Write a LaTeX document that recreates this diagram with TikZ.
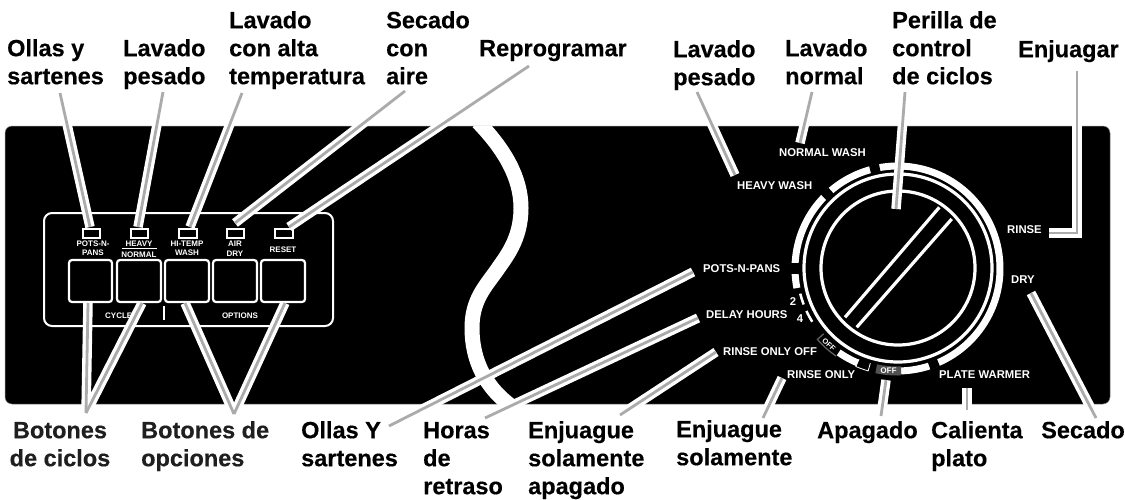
\documentclass[tikz,border=0pt]{standalone}
\usepackage{fontspec}
\setmainfont{Liberation Sans}
\newfontfamily\lblfont[FakeBold=0.4]{Liberation Sans Bold}
\newcommand\firstln{\rule{0pt}{20pt}}
\begin{document}
\begin{tikzpicture}[x=1pt,y=-1pt,
  lbl/.style={font=\lblfont\fontsize{23.5}{28}\selectfont,text=black,inner sep=0pt,anchor=north west,align=left},
  lblc/.style={lbl,align=center,anchor=north,text=black!88},
  dial/.style={font=\bfseries\fontsize{11.3}{13}\selectfont,text=white,inner sep=0pt,anchor=base west},
  tiny/.style={font=\bfseries\fontsize{8}{9}\selectfont,text=white,inner sep=0pt,anchor=base},
  lcase/.style={draw=white,line width=9.5pt},
  lcore/.style={draw=black!33,line width=2.8pt},
  btn/.style={draw=white,line width=2.2pt,rounded corners=3pt},
  led/.style={draw=white,line width=1.2pt,fill=black},
  wl/.style={draw=white,line width=3.2pt}]
\useasboundingbox (0,0) rectangle (1125,499);
\fill[white] (0,0) rectangle (1125,499);
% panel
\draw[fill=black,draw=black!45,line width=.5pt,rounded corners=7pt] (5,126) rectangle (1110,404);
\begin{scope}
  \clip (5,126) rectangle (1110,404);
  \draw[white,line width=15pt] (478,122) .. controls (505,150) and (521,178) .. (521,208)
     .. controls (521,240) and (505,258) .. (497,270)
     .. controls (485,287) and (472,300) .. (472,328)
     .. controls (472,360) and (485,388) .. (514,408);
\end{scope}
% control box
\draw[white,line width=2pt,rounded corners=8pt] (44,213) rectangle (333,326);
\foreach \xa/\xb/\n in {69/112/1,117/161/2,165/209/3,213/257/4,261/305/5}
  \draw[btn] (\xa,260) rectangle (\xb,302);
\foreach \xa/\xb in {83/100,131/148,179/197,227/244,275/293}
  \draw[led] (\xa,229) rectangle (\xb,238);
\node[tiny] (tp1) at (93,246) {POTS-N-};
\node[tiny] (tp2) at (93,255) {PANS};
\node[tiny] (th1) at (139,246) {HEAVY};
\node[tiny] (th2) at (139,257) {NORMAL};
\draw[white,line width=1.2pt] (122,248.5) -- (157,248.5);
\node[tiny] (tt1) at (187,246) {HI-TEMP};
\node[tiny] (tt2) at (187,255) {WASH};
\node[tiny] (ta1) at (235,246) {AIR};
\node[tiny] (ta2) at (235,256) {DRY};
\node[tiny] (tr) at (283,252) {RESET};
\node[tiny,anchor=base west] (tcy) at (105,318) {CYCLES};
\node[tiny] (top) at (240,318) {OPTIONS};
\draw[white,line width=2.5pt] (164,306) -- (164,320);
% dial
\draw[wl] (898,268) circle[radius=77];
\draw[wl] (898,268) circle[radius=94];
\draw[wl] (845,317.3) -- (939.3,207.3);
\draw[wl] (856.7,327.3) -- (951.7,219);
\begin{scope}[shift={(897.5,268.5)},y=1pt]
  \newcommand\ringarc[4]{\draw[#4] (#1:#3) arc[start angle=#1,end angle=#2,radius=#3];}
  \ringarc{272}{551}{102.5}{white,line width=7pt}
  \ringarc{177}{183}{102.5}{black,line width=8pt}
  \ringarc{100}{105.5}{102.5}{black,line width=8pt}
  \ringarc{130.5}{136}{102.5}{black,line width=8pt}
  \ringarc{288}{293.5}{102.5}{black,line width=8pt}
  \ringarc{194.5}{201}{100.5}{white,line width=2.5pt}
  \ringarc{205}{212}{100.5}{white,line width=2.5pt}
  \ringarc{235}{247}{102.5}{white,line width=7pt}
  \ringarc{258}{272}{102.5}{black!68,line width=9pt}
  % outlined boxes
  \draw[white,line width=.8pt] (247:98.5) -- (247:106.5) arc[start angle=247,end angle=254,radius=106.5] -- (254:98.5);
  \draw[black!60,line width=1.2pt] (235:107) arc[start angle=235,end angle=221.5,radius=107] -- (221.5:98.5);
  \node[font=\bfseries\fontsize{7.5}{8}\selectfont,text=white,inner sep=0pt,rotate=-43] (off1) at (228:102.5) {OFF};
  \node[font=\bfseries\fontsize{8}{9}\selectfont,text=white,inner sep=0pt,rotate=2] (off2) at (265:102.5) {OFF};
\end{scope}
\node[dial] (nw) at (779,156) {NORMAL WASH};
\node[dial] (hw) at (737,189) {HEAVY WASH};
\node[dial] (pp) at (703,272) {POTS-N-PANS};
\node[dial] (dh) at (706,318) {DELAY HOURS};
\node[dial] (roo) at (723,355) {RINSE ONLY OFF};
\node[dial] (ro) at (787,378) {RINSE ONLY};
\node[dial] (pw) at (939,378) {PLATE WARMER};
\node[dial] (ri) at (1007,233) {RINSE};
\node[dial] (dr) at (1011,283) {DRY};
\node[dial,anchor=base] (n2) at (793,305) {2};
\node[dial,anchor=base] (n4) at (800,322) {4};
% labels: node top = first baseline - 20
\node[lbl] (a1) at (7,36) {\firstln Ollas y\\sartenes};
\node[lbl] (a2) at (123,36) {\firstln Lavado\\pesado};
\node[lbl] (a3) at (229,8) {\firstln Lavado\\con alta\\temperatura};
\node[lbl] (a4) at (386,8) {\firstln Secado\\con\\aire};
\node[lbl] (a5) at (479,36) {\firstln Reprogramar};
\node[lbl] (a6) at (673,37) {\firstln Lavado\\pesado};
\node[lbl] (a7) at (785,36) {\firstln Lavado\\normal};
\node[lbl] (a8) at (892,8) {\firstln Perilla de\\control\\de ciclos};
\node[lbl] (a9) at (1018,37) {\firstln Enjuagar};
\node[lblc] (b1) at (60,418) {\firstln Botones\\de ciclos};
\node[lbl,text=black!88] (b2) at (141,418) {\firstln Botones de\\opciones};
\node[lbl] (b3) at (301,418) {\firstln Ollas Y\\sartenes};
\node[lbl] (b4) at (423,418) {\firstln Horas\\de\\retraso};
\node[lbl] (b5) at (528,418) {\firstln Enjuague\\solamente\\apagado};
\node[lbl] (b6) at (676,417) {\firstln Enjuague\\solamente};
\node[lbl] (b7) at (817,418) {\firstln Apagado};
\node[lbl] (b8) at (931,418) {\firstln Calienta\\plato};
\node[lbl] (b9) at (1041,418) {\firstln Secado};
% leader ends
\coordinate (p1) at (60,93);   \coordinate (q1) at (90,227);
\coordinate (p2) at (163,92);  \coordinate (q2) at (138,227);
\coordinate (p3) at (242,93);  \coordinate (q3) at (190,227);
\coordinate (p4) at (405,91);  \coordinate (q4) at (235,223);
\coordinate (p5) at (529,66);  \coordinate (q5) at (289,227);
\coordinate (p6) at (697,92);  \coordinate (q6) at (735,175);
\coordinate (p7) at (812,92);  \coordinate (q7) at (800,143);
\coordinate (p8) at (905,92);  \coordinate (q8) at (896,209);
\coordinate (r1) at (86,413);  \coordinate (s1) at (88,303);
\coordinate (s2) at (142,303);
\coordinate (r3) at (234,414); \coordinate (s3) at (185,303);
\coordinate (s4) at (285,303);
\coordinate (r5) at (389,426); \coordinate (s5) at (693,272);
\coordinate (r6) at (485,418); \coordinate (s6) at (698,318);
\coordinate (r7) at (620,415); \coordinate (s7) at (716,352);
\coordinate (r8) at (763,418); \coordinate (s8) at (782,378);
\coordinate (r9) at (881,416); \coordinate (s9) at (886,380);
\coordinate (r10) at (967,410);\coordinate (s10) at (967,388);
\coordinate (r11) at (1096,418);\coordinate (s11) at (1031,293);
\coordinate (e1) at (1077,71); \coordinate (e2) at (1077,233); \coordinate (e3) at (1049,233);
\def\leaderlist{p1/q1,p2/q2,p3/q3,p4/q4,p5/q5,p6/q6,p7/q7,p8/q8,r1/s1,r1/s2,r3/s3,r3/s4,r5/s5,r6/s6,r7/s7,r8/s8,r9/s9,r10/s10,r11/s11}
\foreach \a/\b in \leaderlist \draw[lcase] (\a) -- (\b);
\draw[lcase] (e1) -- (e2) -- (e3);
\foreach \a/\b in \leaderlist \draw[lcore] (\a) -- (\b);
\draw[lcore] (e1) -- (e2) -- (e3);
\end{tikzpicture}
\end{document}
